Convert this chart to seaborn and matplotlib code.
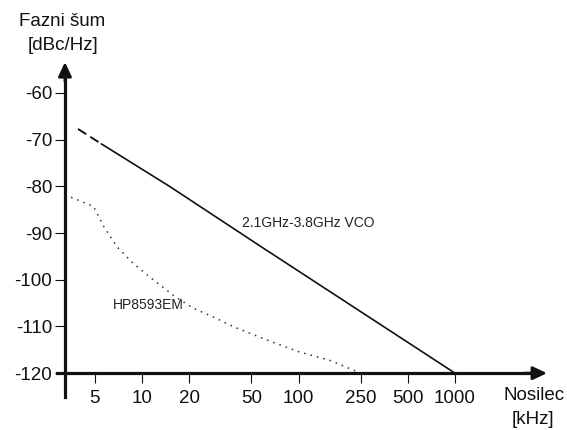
import matplotlib
matplotlib.use("Agg")
import matplotlib.pyplot as plt
import seaborn as sns

# VCO phase noise (kHz offset, dBc/Hz); first segment is dashed
vco_dash_x = [3.9, 5.5]
vco_dash_y = [-67.7, -70.9]
vco_x = [5.5, 15, 57, 1000]
vco_y = [-70.9, -80.0, -92.8, -120.0]

# HP8593EM analyser noise floor
hp_x = [3.22, 4.9, 5.7, 6.9, 8.8, 11.8, 15.8, 21.3, 30, 38, 63, 100, 160, 250]
hp_y = [-81.8, -84.3, -88.6, -92.9, -96.5, -100.0, -103.3, -106.1, -108.3,
        -110.0, -112.9, -115.4, -117.3, -120.0]

x_ticks = [5, 10, 20, 50, 100, 250, 500, 1000]
x_labels = ["5", "10", "20", "50", "100", "250", "500", "1000"]
y_ticks = [-60, -70, -80, -90, -100, -110, -120]

sns.set_style("white")
plt.rcParams["font.family"] = ["Liberation Sans", "DejaVu Sans"]

W, H = 567, 430
fig = plt.figure(figsize=(W / 100, H / 100), dpi=100)
ax = fig.add_axes([57 / W, 33 / H, (533 - 57) / W, (397 - 75) / H])

ax.set_xscale("log")
ax.set_xlim(2.864, 3148)
ax.set_ylim(-125.1, -56.15)

sns.lineplot(x=vco_dash_x, y=vco_dash_y, ax=ax, color="#111111", lw=1.4,
             linestyle=(0, (5, 2.5)))
sns.lineplot(x=vco_x, y=vco_y, ax=ax, color="#111111", lw=1.2)
sns.lineplot(x=hp_x, y=hp_y, ax=ax, color="#333333", lw=1.1,
             linestyle=(0, (1, 3.3)))

ax.text(43.6, -87.8, "2.1GHz-3.8GHz VCO", fontsize=10, va="center", ha="left", color="#222222")
ax.text(6.5, -105.4, "HP8593EM", fontsize=10, va="center", ha="left", color="#222222")

# axes through the origin with arrow heads
y_axis_x = 3.22
for s in ["top", "right"]:
    ax.spines[s].set_visible(False)
ax.spines["left"].set_position(("data", y_axis_x))
ax.spines["bottom"].set_position(("data", -120))
for s in ["left", "bottom"]:
    ax.spines[s].set_linewidth(2.3)
    ax.spines[s].set_color("#111111")

arrow = dict(arrowstyle="-|>,head_length=0.85,head_width=0.4", mutation_scale=10,
             lw=2.0, color="#111111", shrinkA=0, shrinkB=0)
ax.annotate("", xy=(y_axis_x, 1.040), xytext=(y_axis_x, 0.98),
            xycoords=ax.get_xaxis_transform(), textcoords=ax.get_xaxis_transform(),
            arrowprops=arrow, annotation_clip=False)
ax.annotate("", xy=(1.0294, -120), xytext=(0.98, -120),
            xycoords=ax.get_yaxis_transform(), textcoords=ax.get_yaxis_transform(),
            arrowprops=arrow, annotation_clip=False)

ax.set_xticks(x_ticks)
ax.set_xticklabels(x_labels)
ax.minorticks_off()
ax.set_yticks(y_ticks)
ax.set_yticklabels([str(v) for v in y_ticks])
ax.tick_params(axis="y", direction="out", length=7.2, width=0.8, pad=2,
               labelsize=13.5, colors="#111111", left=True)
ax.tick_params(axis="x", direction="out", length=7.2, width=0.8, pad=5,
               labelsize=13.5, colors="#111111", bottom=True)
ax.grid(False)

fig.text(62 / W, 1 - 22 / H, "Fazni šum", fontsize=13.5, ha="center", va="center", color="#111111")
fig.text(63 / W, 1 - 45 / H, "[dBc/Hz]", fontsize=13.5, ha="center", va="center", color="#111111")
fig.text(534 / W, 1 - 395 / H, "Nosilec", fontsize=13.5, ha="center", va="center", color="#111111")
fig.text(533 / W, 1 - 420 / H, "[kHz]", fontsize=13.5, ha="center", va="center", color="#111111")

fig.savefig("out.png", dpi=100)
